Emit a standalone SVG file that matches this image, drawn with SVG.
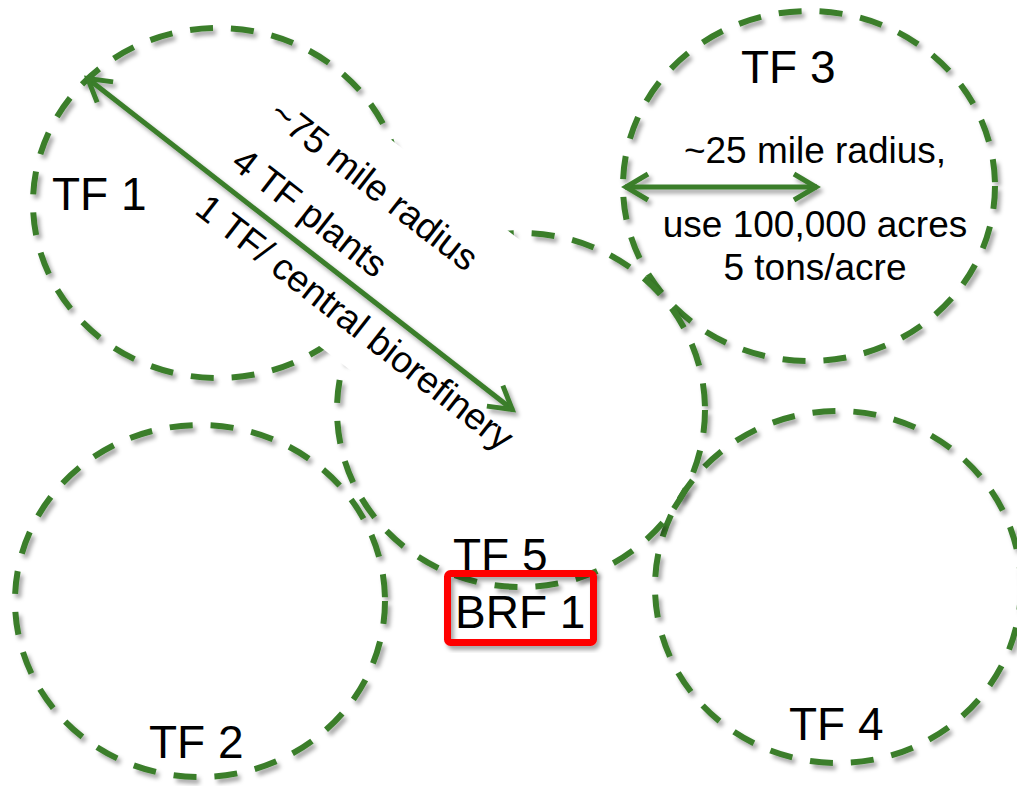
<svg xmlns="http://www.w3.org/2000/svg" width="1017" height="786" viewBox="0 0 1017 786">
  <defs>
    <filter id="shadow" x="-10%" y="-10%" width="125%" height="125%">
      <feDropShadow dx="3" dy="4" stdDeviation="2" flood-color="#000" flood-opacity="0.35"/>
    </filter>
    <marker id="chevron" markerUnits="userSpaceOnUse" markerWidth="40" markerHeight="40" viewBox="-30 -20 40 40" refX="0" refY="0" orient="auto-start-reverse">
      <path d="M-23,-13 L-1,0 L-23,13" fill="none" stroke="#3a7e2c" stroke-width="5" stroke-linejoin="miter"/>
    </marker>
    <style>
      .zone { fill: none; stroke: #3a7e2c; stroke-width: 6; stroke-dasharray: 23 18; }
      .label { font-family: "Liberation Sans", Arial, sans-serif; font-size: 46px; fill: #000; }
      .note { font-family: "Liberation Sans", Arial, sans-serif; font-size: 37px; fill: #000; }
      .dim { stroke: #3a7e2c; stroke-width: 5; fill: none; marker-start: url(#chevron); marker-end: url(#chevron); }
    </style>
  </defs>

  <rect width="1017" height="786" fill="#fff"/>

  <!-- supply zones -->
  <g id="tf1" filter="url(#shadow)">
    <ellipse class="zone" cx="218" cy="203" rx="185" ry="175"/>
  </g>
  <g id="tf2" filter="url(#shadow)">
    <ellipse class="zone" cx="200" cy="601" rx="185" ry="176"/>
  </g>
  <g id="tf3" filter="url(#shadow)">
    <ellipse class="zone" cx="809" cy="186" rx="186" ry="175"/>
  </g>
  <g id="tf4" filter="url(#shadow)">
    <ellipse class="zone" cx="838" cy="587" rx="183" ry="176"/>
  </g>
  <g id="tf5" filter="url(#shadow)">
    <ellipse class="zone" cx="521" cy="410" rx="184" ry="177"/>
  </g>

  <!-- white backing behind the rotated annotation -->
  <g id="annotation-backing" transform="rotate(37.9)">
    <rect x="240" y="-130" width="450" height="207" fill="#fff"/>
  </g>

  <!-- radius dimension arrows -->
  <g id="connectors" filter="url(#shadow)">
    <line class="dim" x1="87" y1="78" x2="513" y2="410"/>
    <line class="dim" x1="625" y1="187" x2="817" y2="187"/>
  </g>

  <!-- rotated annotation along the large radius -->
  <g id="annotation-75" transform="rotate(37.9)">
    <text class="note" x="283" y="-71">~75 mile radius</text>
    <text class="note" x="283" y="-10">4 TF plants</text>
    <text class="note" x="283" y="49">1 TF/ central biorefinery</text>
  </g>

  <!-- annotation for the small radius -->
  <g id="annotation-25">
    <text class="note" x="815" y="163" text-anchor="middle">~25 mile radius,</text>
    <text class="note" x="815" y="237" text-anchor="middle">use 100,000 acres</text>
    <text class="note" x="815" y="280" text-anchor="middle">5 tons/acre</text>
  </g>

  <!-- zone labels -->
  <g id="labels">
    <text class="label" x="52" y="210">TF 1</text>
    <text class="label" x="149" y="758">TF 2</text>
    <text class="label" x="741" y="83">TF 3</text>
    <text class="label" x="789" y="740">TF 4</text>
    <text class="label" x="453" y="571">TF 5</text>
  </g>

  <!-- central biorefinery -->
  <g id="brf1">
    <rect x="447.5" y="573.5" width="146" height="69" rx="3" fill="none" stroke="#ff0000" stroke-width="7" filter="url(#shadow)"/>
    <text class="label" x="455" y="628" font-size="45">BRF 1</text>
  </g>
</svg>
